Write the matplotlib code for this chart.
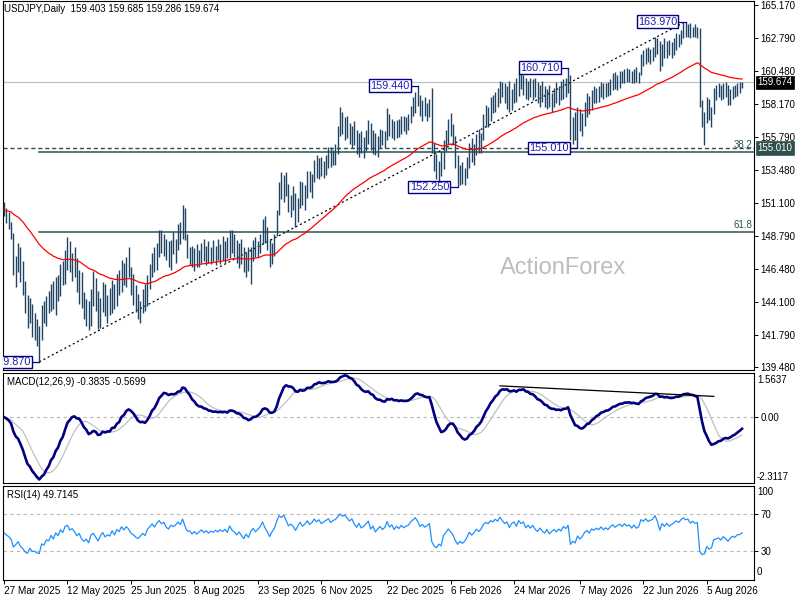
import numpy as np
import pandas as pd
import matplotlib
matplotlib.use("Agg")
import matplotlib.pyplot as plt

# ---------------- data ----------------
title_text = "USDJPY,Daily  159.403 159.685 159.286 159.674"
macd_title = "MACD(12,26,9) -0.3835 -0.5699"
rsi_title = "RSI(14) 49.7145"

highs = [
 151.2,150.8,150.5,149.8,149.0,147.4,148.3,148.0,147.0,145.6,
 144.6,144.4,144.0,143.3,142.9,142.4,143.9,144.2,144.5,144.9,
 145.4,145.6,145.9,146.0,146.8,147.0,147.8,148.7,148.4,147.6,
 148.0,147.2,146.4,146.2,144.8,144.3,144.2,145.0,146.3,145.8,
 144.9,144.4,145.5,145.4,144.6,145.1,145.7,145.4,146.1,146.4,
 147.1,146.9,147.3,148.0,146.6,146.1,145.3,144.7,144.2,145.0,
 145.4,146.0,146.8,147.6,148.0,148.3,149.2,149.2,148.9,148.6,
 148.4,148.5,149.1,148.6,149.6,149.8,150.97,150.8,148.9,148.0,
 148.1,147.9,148.2,147.8,148.3,148.6,148.1,148.4,148.0,148.5,
 148.1,148.6,148.2,148.8,148.4,148.7,149.2,149.2,148.9,148.5,
 148.3,148.6,148.0,147.6,148.0,148.0,148.5,148.7,148.4,148.9,
 150.0,150.2,149.4,148.6,148.3,148.9,150.6,152.6,153.3,153.1,
 153.3,152.5,151.7,152.3,151.8,151.5,152.7,152.6,152.4,153.4,
 153.4,153.2,154.2,154.5,154.3,154.4,154.1,154.5,155.1,155.1,
 154.9,155.3,156.6,157.9,157.6,157.2,157.3,156.8,156.6,156.9,
 156.3,156.1,156.2,155.8,156.3,157.0,156.8,156.3,156.1,155.9,
 156.4,156.3,156.2,157.85,157.4,157.1,156.9,157.0,157.1,157.3,
 157.3,157.2,157.4,158.0,158.6,159.0,159.44,158.8,158.4,158.6,
 158.2,158.5,159.3,155.4,154.6,154.1,154.8,155.6,156.3,157.1,
 157.5,156.7,155.9,154.5,153.8,154.0,153.6,154.4,155.4,155.7,
 155.3,156.0,156.4,156.1,157.4,158.1,157.9,158.6,158.8,159.0,
 159.3,159.8,159.7,159.6,159.4,159.8,159.2,159.6,159.95,160.3,
 160.5,160.2,160.0,159.8,160.0,159.9,160.0,159.7,159.5,159.8,
 159.4,159.2,159.5,158.9,159.3,159.7,159.4,159.8,159.9,160.0,
 160.71,160.2,157.2,157.6,157.9,157.8,157.5,158.3,158.9,158.7,
 159.1,159.4,159.3,159.4,159.7,159.6,159.6,159.7,159.9,160.3,
 160.4,160.2,160.5,160.5,160.6,160.7,160.6,160.5,160.6,160.75,
 160.4,161.7,161.95,162.1,162.2,162.0,162.2,162.9,162.8,162.6,
 162.4,162.8,162.6,162.7,162.5,162.8,163.2,163.1,163.4,163.9,
 163.97,163.8,163.9,163.6,163.8,163.6,163.5,158.4,157.6,158.6,
 158.5,157.9,159.3,159.5,159.6,159.5,159.6,159.7,159.5,159.2,
 159.4,159.5,159.6,159.7,159.685]

lows = [
 150.2,149.7,149.3,148.6,146.0,145.2,146.2,145.5,144.6,143.3,
 142.3,142.6,141.6,141.4,141.0,139.87,141.4,142.6,142.4,143.3,
 143.5,143.6,143.2,144.2,144.5,145.3,145.4,146.4,146.2,145.6,
 145.9,144.8,144.0,143.7,142.9,142.4,142.1,142.4,143.8,143.5,
 142.2,142.3,143.4,143.1,142.6,143.2,143.3,143.6,143.8,144.6,
 144.8,145.3,145.2,145.9,144.6,143.9,143.4,142.9,142.6,143.3,
 143.5,143.8,145.0,145.9,146.2,146.4,147.3,147.6,147.4,147.1,
 146.6,146.4,147.5,146.9,147.8,148.2,148.6,148.5,147.2,146.7,
 146.6,146.3,146.6,146.6,146.9,147.0,146.7,146.9,146.8,147.0,
 146.7,147.1,146.8,147.1,146.9,147.2,147.2,147.6,147.3,146.9,
 146.5,146.8,146.2,145.9,146.3,145.4,147.0,147.3,147.3,147.6,
 148.2,148.3,147.8,146.6,146.8,147.4,148.8,150.3,151.4,151.2,
 151.6,150.5,150.1,150.6,149.4,149.8,150.8,151.0,150.6,151.5,
 151.9,151.5,152.6,152.9,152.8,153.0,152.9,153.1,153.6,153.7,
 153.8,153.8,154.6,155.9,156.0,155.6,155.7,155.3,155.0,155.2,
 154.6,154.4,154.7,154.3,154.8,155.3,154.9,154.6,154.5,154.4,
 155.0,155.2,155.0,155.6,155.9,155.7,155.6,155.7,155.8,156.0,
 156.2,156.0,156.3,156.8,157.3,157.5,158.0,157.3,156.9,157.3,
 156.9,157.2,154.7,153.4,152.8,152.6,153.0,153.5,154.8,155.3,
 155.9,155.2,153.6,152.25,152.4,152.5,152.4,152.9,153.6,154.0,
 153.8,154.5,154.7,154.7,155.6,156.5,156.5,156.9,157.5,157.6,
 157.9,158.2,158.6,158.2,157.8,157.6,157.7,158.2,158.3,158.7,
 159.2,158.8,158.5,158.4,158.6,158.4,158.6,158.2,157.9,158.3,
 157.9,157.8,157.9,157.6,157.9,158.2,158.1,158.4,158.5,158.6,
 158.9,155.6,155.3,155.6,155.01,156.2,155.9,156.6,157.2,157.4,
 157.7,158.2,158.2,158.3,158.6,158.5,158.6,158.7,158.8,159.1,
 159.2,159.1,159.3,159.6,159.6,159.7,159.7,159.6,159.6,159.7,
 159.6,160.2,160.8,161.0,161.1,161.0,161.2,161.5,161.7,160.5,
 160.8,161.4,161.4,161.6,161.4,161.6,161.95,162.2,162.4,162.8,
 162.9,162.9,162.8,162.9,162.9,162.8,157.9,156.5,155.2,156.8,
 157.0,156.5,157.4,158.4,158.6,158.4,158.5,158.6,158.1,158.1,
 158.5,158.6,158.7,158.9,159.286]

closes = [
 150.6,150.0,149.6,148.9,146.4,146.9,147.5,145.9,145.0,143.6,
 142.9,143.9,142.6,142.6,141.9,141.6,143.4,143.0,144.1,143.8,
 145.0,144.0,145.5,144.7,146.3,145.6,147.4,147.8,146.6,147.0,
 146.2,145.1,145.7,144.1,143.3,143.8,142.6,144.6,145.0,143.9,
 142.6,143.9,144.9,143.5,144.1,143.7,145.2,144.0,145.6,145.0,
 146.6,145.7,146.8,146.2,145.0,144.5,143.8,143.3,143.9,144.6,
 144.0,145.6,146.4,147.3,146.6,147.8,148.7,148.0,148.5,147.4,
 147.0,148.1,147.8,148.2,149.1,148.6,150.3,148.8,147.6,147.7,
 146.9,147.5,146.9,147.4,147.9,147.3,147.7,147.2,147.6,147.4,
 147.8,147.5,147.9,147.6,148.0,147.5,148.7,148.0,147.7,147.2,
 147.7,147.1,146.5,147.2,146.6,147.6,148.2,147.6,148.1,148.6,
 149.6,148.7,148.0,147.0,147.9,148.6,150.4,152.3,152.0,152.8,
 151.9,150.8,151.3,150.9,150.0,151.1,152.2,151.4,152.0,153.0,
 152.3,152.8,153.9,153.4,154.0,153.3,153.8,154.2,154.7,154.1,
 154.6,154.9,155.6,156.5,156.2,156.5,156.1,155.7,156.2,155.5,
 155.0,155.8,155.1,155.4,155.9,156.5,155.3,155.9,154.9,155.5,
 156.0,155.5,155.9,157.2,156.3,156.8,156.0,156.7,156.3,157.0,
 156.6,156.9,157.1,157.8,158.3,158.8,158.3,157.6,158.0,157.6,
 157.9,158.3,155.0,153.7,153.2,153.8,153.3,155.3,155.9,156.8,
 156.2,155.5,154.0,152.8,153.4,152.8,153.2,154.0,155.1,154.4,
 155.0,155.8,155.3,155.9,157.1,157.6,157.4,158.2,158.0,158.7,
 158.4,159.5,159.0,158.5,158.9,158.0,158.9,159.3,158.6,160.0,
 159.5,159.9,158.9,159.5,159.0,159.6,158.9,158.5,159.2,158.7,
 158.3,159.0,158.2,158.6,159.0,158.6,159.1,158.8,159.6,159.3,
 159.9,155.9,156.5,156.0,157.4,156.6,157.1,158.0,158.5,157.9,
 158.9,158.6,159.1,158.8,159.4,158.9,159.3,159.0,159.6,160.0,
 159.6,160.0,160.2,159.9,160.4,160.1,160.3,159.9,160.4,160.0,
 160.2,161.5,161.3,161.8,161.5,161.7,161.9,162.6,162.0,160.9,
 162.1,161.7,162.3,161.9,162.2,162.5,162.9,162.7,163.2,163.6,
 163.4,163.5,163.1,163.4,163.2,163.3,158.2,157.0,157.1,158.2,
 157.4,157.6,159.0,159.1,159.3,158.8,159.4,159.0,158.4,158.9,
 159.2,159.0,159.4,159.4,159.674]

# marked swing points: (bar index, 'high' or 'low')
swing_marks = [(15, "low"), (176, "high"), (193, "low"),
               (240, "high"), (244, "low"), (290, "high")]
fib_ratios = [0.382, 0.618]
fib_names = ["38.2", "61.8"]

date_labels = ["27 Mar 2025", "12 May 2025", "25 Jun 2025", "8 Aug 2025",
               "23 Sep 2025", "6 Nov 2025", "22 Dec 2025", "6 Feb 2026",
               "24 Mar 2026", "7 May 2026", "22 Jun 2026", "5 Aug 2026"]
date_bars = [0, 27, 54, 81, 108, 135, 163, 190, 217, 245, 272, 299]

price_ticks = [165.170, 162.790, 160.480, 158.170, 155.790, 153.480,
               151.100, 148.790, 146.480, 144.100, 141.790, 139.480]
macd_range = [-2.3117, 1.5637]
macd_trend_pts = [(211, 1.10), (302, 0.73)]   # analyst trendline on MACD

# ---------------- indicators ----------------
H = np.array(highs); Lw = np.array(lows); C = pd.Series(closes)
n = len(C)
idx = np.arange(n)
ema55 = C.ewm(span=55, adjust=False).mean()
macd = C.ewm(span=12, adjust=False).mean() - C.ewm(span=26, adjust=False).mean()
signal = macd.rolling(9, min_periods=1).mean()

d = C.diff().fillna(0).values
seed = np.mean(np.abs(d[1:15])) / 2
ag, al = seed, seed
rsi = []
for v in d:
    ag = (ag * 13 + max(v, 0)) / 14
    al = (al * 13 + max(-v, 0)) / 14
    rsi.append(100 - 100 / (1 + ag / al) if al > 0 else 100)
rsi = np.array(rsi)

# ---------------- figure ----------------
FONT = "Liberation Sans"
plt.rcParams["font.family"] = [FONT, "DejaVu Sans"]
fig = plt.figure(figsize=(8, 6), dpi=100)
W, Ht = 800.0, 600.0
L = 2.5 / W; R = 754 / W

def ax_at(top, bottom):
    return fig.add_axes([L, 1 - bottom / Ht, R - L, (bottom - top) / Ht])

ax1 = ax_at(0.5, 370)
ax2 = ax_at(372.7, 482.7)
ax3 = ax_at(485.7, 579.5)
for a in (ax1, ax2, ax3):
    a.set_xlim(-0.64, 319.1)
    for s in a.spines.values():
        s.set_color("black"); s.set_linewidth(0.8)
    a.yaxis.tick_right()
    a.tick_params(axis="y", direction="out", length=3, width=0.7, pad=1.5,
                  labelsize=7, colors="black")
    a.tick_params(axis="x", bottom=False, labelbottom=False)

bar_color = "#1f4464"
slate = "#2f4f4f"

# ---- price panel ----
ax1.set_ylim(139.29, 165.47)
ax1.set_yticks(price_ticks)
ax1.set_yticklabels([f"{v:.3f}" for v in price_ticks])

last = closes[-1]
ax1.axhline(last, color="#c0c0c0", lw=0.9, zorder=1)

lo_i = int(np.argmin(Lw)); hi_i = int(np.argmax(H))
lo, hi = Lw[lo_i], H[hi_i]
for r, nm in zip(fib_ratios, fib_names):
    lev = hi - r * (hi - lo)
    ax1.plot([lo_i, 319.1], [lev, lev], color=slate, lw=1.1, zorder=2)
    ax1.text(318.3, lev + 0.12, nm, ha="right", va="bottom", fontsize=7,
             color=slate, zorder=6)

support = lows[244]
ax1.axhline(support, color=slate, lw=1.0, ls=(0, (3, 2)), zorder=2)

ax1.plot([lo_i, hi_i], [lo, hi], color="black", lw=0.9, ls=(0, (1.6, 2.2)), zorder=3)

ax1.vlines(idx, Lw, H, color=bar_color, lw=1.0, zorder=4)
ax1.plot(idx, ema55, color="red", lw=0.9, zorder=5)

for bi, kind in swing_marks:
    val = highs[bi] if kind == "high" else lows[bi]
    ax1.plot([bi - 4, bi], [val, val], color="#000080", lw=0.9, zorder=6)
    ax1.text(bi - 3.6, val, f"{val:.3f}", ha="right", va="center", fontsize=7.8,
             color="#1c1cb8", zorder=7, clip_on=True,
             bbox=dict(boxstyle="square,pad=0.12", fc="white", ec="#000080", lw=1.0))

fig.text(563 / W, 1 - 268 / Ht, "ActionForex", fontsize=17, color="#bdbdbd",
         ha="center", va="center", zorder=0)
fig.text(4 / W, 1 - 8.5 / Ht, title_text, fontsize=7, ha="left", va="center")

def price_box(y_val, fc):
    yfrac = ax1.transData.transform((0, y_val))[1] / (Ht)
    fig.text(757.5 / W, yfrac, f"{y_val:.3f}", fontsize=7, color="white",
             ha="left", va="center",
             bbox=dict(boxstyle="square,pad=0.18", fc=fc, ec=fc, lw=0.5))

# ---- MACD panel ----
ax2.set_ylim(macd_range[0], macd_range[1])
ax2.axhline(0, color="#b8b8b8", lw=0.8, ls=(0, (3, 3)))
ax2.plot(idx, signal, color="#c0c0c0", lw=0.9)
ax2.plot(idx, macd, color="#000080", lw=1.9)
ax2.plot([p[0] for p in macd_trend_pts], [p[1] for p in macd_trend_pts],
         color="black", lw=0.9)
ax2.set_yticks([0]); ax2.set_yticklabels(["0.00"])
ax2.text(1.004, 0.934, f"{macd_range[1]:.4f}", transform=ax2.transAxes,
         fontsize=7, va="center", ha="left")
ax2.text(1.004, 0.055, f"{macd_range[0]:.4f}", transform=ax2.transAxes,
         fontsize=7, va="center", ha="left")
fig.text(7 / W, 1 - 381.7 / Ht, macd_title, fontsize=7, ha="left", va="center")

# ---- RSI panel ----
ax3.set_ylim(0, 100)
for lv in (70, 30):
    ax3.axhline(lv, color="#b8b8b8", lw=0.8, ls=(0, (3, 3)))
ax3.plot(idx, rsi, color="#1e90ff", lw=0.9)
ax3.set_yticks([70, 30]); ax3.set_yticklabels(["70", "30"])
ax3.text(1.004, 0.93, "100", transform=ax3.transAxes, fontsize=7, va="center", ha="left")
ax3.text(1.004, 0.077, "0", transform=ax3.transAxes, fontsize=7, va="center", ha="left")
fig.text(7 / W, 1 - 495 / Ht, rsi_title, fontsize=7, ha="left", va="center")

ax3.tick_params(axis="x", bottom=True, labelbottom=True, direction="out",
                length=3, width=0.7, pad=2, labelsize=7.2)
ax3.set_xticks(date_bars)
ax3.set_xticklabels(date_labels, ha="left")

fig.canvas.draw()
price_box(last, "black")
price_box(support, slate)

fig.savefig("out.png", dpi=100, facecolor="white")
